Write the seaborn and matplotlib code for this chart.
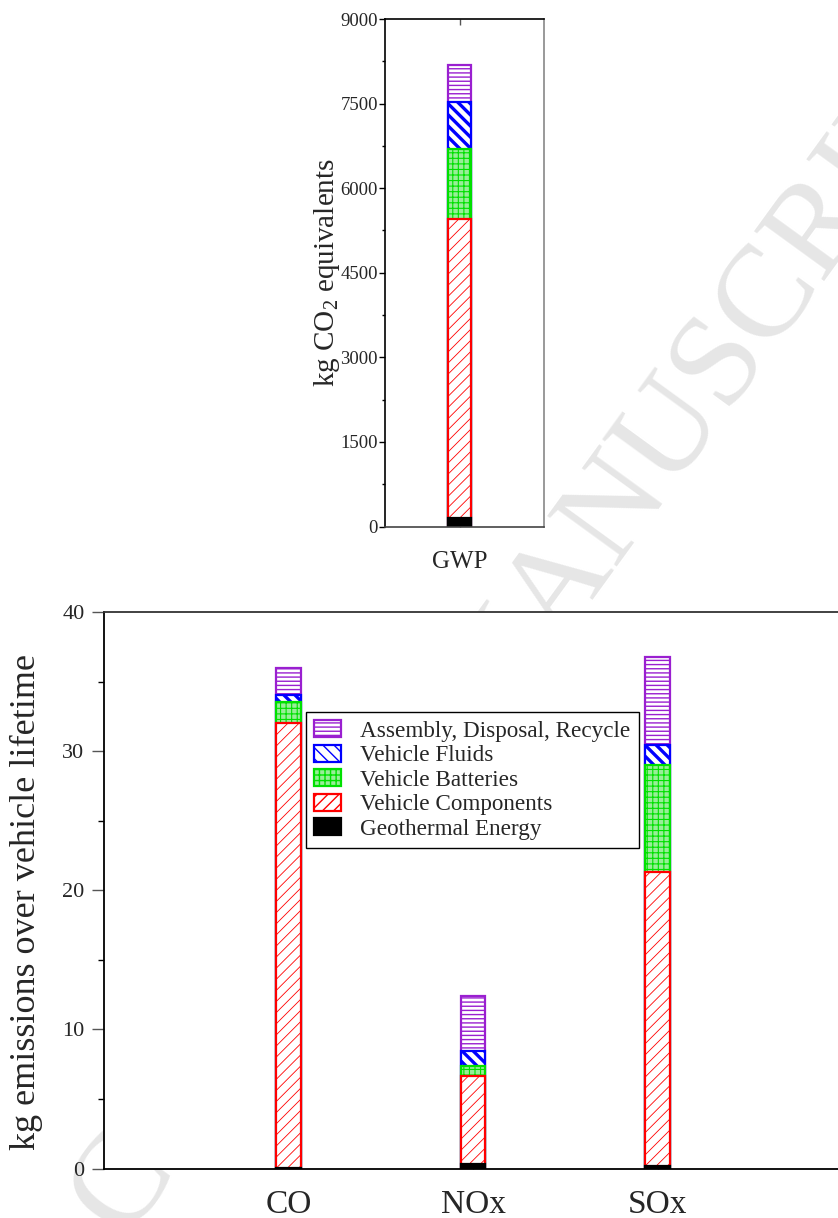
import matplotlib
matplotlib.use("Agg")
import matplotlib.pyplot as plt
import matplotlib.patches as mpatches
from matplotlib.ticker import MultipleLocator
import numpy as np
import pandas as pd
import seaborn as sns

# ---------------- data ----------------
top_categories = ["GWP"]
gwp_geothermal = [150]
gwp_components = [5300]
gwp_batteries = [1250]
gwp_fluids = [820]
gwp_assembly = [670]

categories = ["CO", "NOx", "SOx"]
geothermal = [0.05, 0.34, 0.2]
components = [31.95, 6.28, 21.1]
batteries = [1.5, 0.76, 7.7]
fluids = [0.55, 1.08, 1.42]
assembly = [1.95, 3.92, 6.38]

# styles: (facecolor, edgecolor, hatch, hatch linewidth)
styles = {
    "Assembly, Disposal, Recycle": ("white", "#9a1fd0", "----", 1.0),
    "Vehicle Fluids": ("white", "#0000ff", "\\\\\\", 2.4),
    "Vehicle Batteries": ("#98ee98", "#00e000", "+++", 0.8),
    "Vehicle Components": ("white", "#ff0000", "///", 0.6),
    "Geothermal Energy": ("black", "black", None, 1.0),
}

sns.set_theme(style="white")
plt.rcParams["font.family"] = ["Liberation Serif", "DejaVu Serif"]
plt.rcParams["mathtext.fontset"] = "custom"
plt.rcParams["mathtext.rm"] = "Liberation Serif"
plt.rcParams["mathtext.it"] = "Liberation Serif:italic"

W, H = 838, 1218
fig = plt.figure(figsize=(W / 100, H / 100), dpi=100)
fig.patch.set_facecolor("white")

# faint watermark behind the axes
fig.text(505 / W, 1 - 668 / H, "ACCEPTED MANUSCRIPT", rotation=54,
         ha="center", va="center", fontsize=95, color="#e6e6e6", zorder=-5,
         family=["Liberation Serif"])

# axes in pixel geometry of the reference
ax1 = fig.add_axes([385 / W, 1 - 526.5 / H, 159 / W, 507.5 / H])
ax2 = fig.add_axes([104 / W, 1 - 1168.5 / H, 738 / W, 556.5 / H])
for ax in (ax1, ax2):
    ax.set_facecolor("white")


def stacked(ax, cats, layers, width):
    # layers: list of (name, values) bottom -> top
    cum = np.cumsum(np.array([v for _, v in layers], dtype=float), axis=0)
    # draw from the tallest cumulative layer down, so lower layers overdraw
    for i in range(len(layers) - 1, -1, -1):
        name = layers[i][0]
        fc, ec, hatch, hlw = styles[name]
        n0 = len(ax.patches)
        df = pd.DataFrame({"cat": cats, "val": cum[i]})
        sns.barplot(data=df, x="cat", y="val", order=cats, ax=ax, color=fc,
                    saturation=1, width=width, errorbar=None)
        for p in ax.patches[n0:]:
            p.set_facecolor(fc)
            p.set_edgecolor(ec)
            p.set_linewidth(1.6)
            if hatch:
                p.set_hatch(hatch)
                if hasattr(p, "set_hatch_linewidth"):
                    p.set_hatch_linewidth(hlw)


stacked(ax1, top_categories,
        [("Geothermal Energy", gwp_geothermal),
         ("Vehicle Components", gwp_components),
         ("Vehicle Batteries", gwp_batteries),
         ("Vehicle Fluids", gwp_fluids),
         ("Assembly, Disposal, Recycle", gwp_assembly)], width=0.134)

stacked(ax2, categories,
        [("Geothermal Energy", geothermal),
         ("Vehicle Components", components),
         ("Vehicle Batteries", batteries),
         ("Vehicle Fluids", fluids),
         ("Assembly, Disposal, Recycle", assembly)], width=0.1355)

# ---------------- top axes ----------------
ax1.set_xlim(-74.5 / 172, 84.5 / 172)
ax1.set_ylim(0, 9000)
ax1.yaxis.set_major_locator(MultipleLocator(1500))
ax1.yaxis.set_minor_locator(MultipleLocator(750))
ax1.tick_params(axis="y", which="major", direction="out", length=4, width=1,
                labelsize=13.5, pad=1, left=True, color="black")
ax1.tick_params(axis="y", which="minor", direction="out", length=2.2, width=1,
                left=True, color="black")
ax1.tick_params(axis="x", which="major", direction="in", length=4, width=1,
                top=True, bottom=True, labelsize=18, pad=18, color="#555555")
ax1.set_xlabel("")
ax1.set_ylabel("kg CO$_2$ equivalents", fontsize=21)
ax1.yaxis.set_label_coords((342 - 385) / 159, 0.5)
for side, col in (("left", "black"), ("top", "black"),
                  ("right", "#888888"), ("bottom", "#444444")):
    ax1.spines[side].set_visible(True)
    ax1.spines[side].set_color(col)
    ax1.spines[side].set_linewidth(1.2)

# ---------------- bottom axes ----------------
ax2.set_xlim(-1, 3)
ax2.set_ylim(0, 40)
ax2.yaxis.set_major_locator(MultipleLocator(10))
ax2.yaxis.set_minor_locator(MultipleLocator(5))
ax2.tick_params(axis="y", which="major", direction="out", length=9, width=1,
                labelsize=16, pad=5, left=True, color="#555555")
ax2.tick_params(axis="y", which="minor", direction="out", length=4, width=1,
                left=True, color="black")
ax2.tick_params(axis="x", which="major", direction="in", length=4, width=1,
                bottom=True, labelsize=24, pad=15, color="#555555")
ax2.set_xlabel("")
ax2.set_ylabel("kg emissions over vehicle lifetime", fontsize=26)
ax2.yaxis.set_label_coords((43 - 104) / 738, (1168.5 - 902) / 556.5)
for side, col in (("left", "black"), ("top", "#333333"), ("bottom", "black")):
    ax2.spines[side].set_visible(True)
    ax2.spines[side].set_color(col)
    ax2.spines[side].set_linewidth(1.3)
ax2.spines["right"].set_visible(False)

# legend
legend_order = ["Assembly, Disposal, Recycle", "Vehicle Fluids", "Vehicle Batteries",
                "Vehicle Components", "Geothermal Energy"]
handles = []
for name in legend_order:
    fc, ec, hatch, hlw = styles[name]
    h = mpatches.Patch(facecolor=fc, edgecolor=ec, hatch=hatch, linewidth=1.6,
                       label=name)
    if hatch and hasattr(h, "set_hatch_linewidth"):
        h.set_hatch_linewidth(hlw)
    handles.append(h)
leg = ax2.legend(handles=handles, loc="upper left",
                 bbox_to_anchor=((305.5 - 104) / 738, (1168.5 - 712) / 556.5),
                 borderaxespad=0, fontsize=16.7, frameon=True, fancybox=False,
                 edgecolor="black", framealpha=1, handlelength=1.17,
                 handleheight=0.77, handletextpad=0.85, labelspacing=0.12,
                 borderpad=0.35)
leg.get_frame().set_linewidth(1.0)

fig.savefig("out.png", dpi=100, facecolor="white")
